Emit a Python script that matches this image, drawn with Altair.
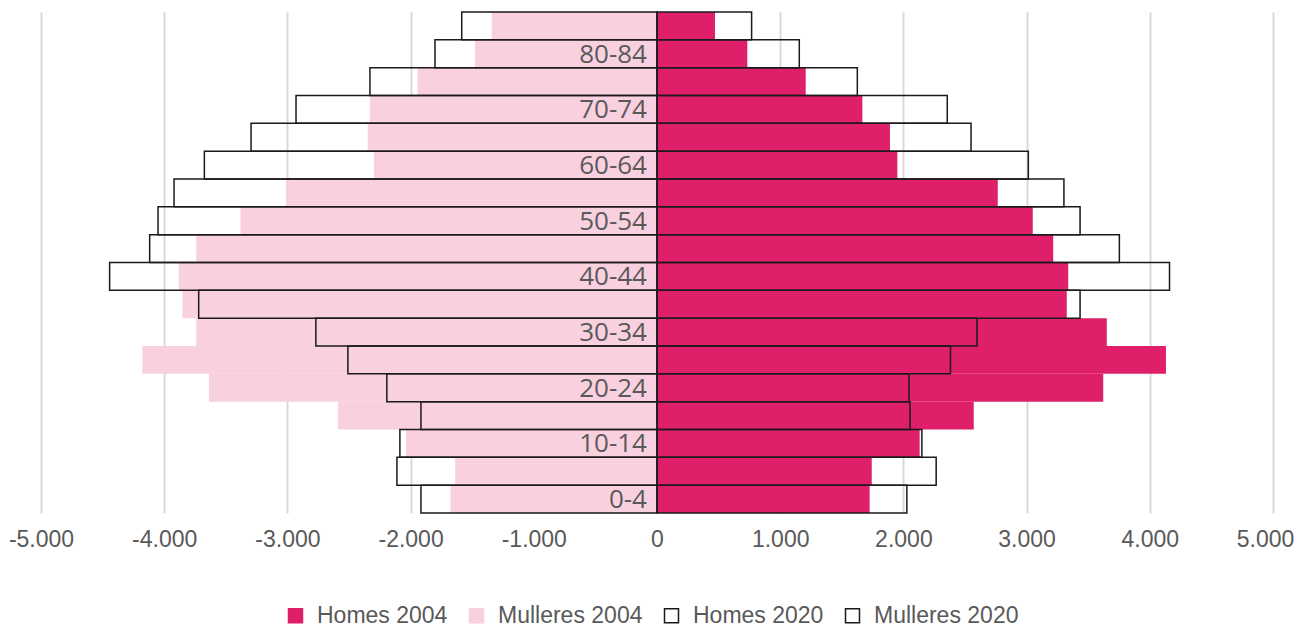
import altair as alt
import pandas as pd

# ---- data ----
ages = ["0-4", "5-9", "10-14", "15-19", "20-24", "25-29", "30-34", "35-39", "40-44",
        "45-49", "50-54", "55-59", "60-64", "65-69", "70-74", "75-79", "80-84", "85+"]
homes_2004 = [1726, 1743, 2132, 2571, 3622, 4131, 3651, 3326, 3338,
              3216, 3050, 2766, 1951, 1891, 1667, 1207, 733, 471]
mulleres_2004 = [1677, 1638, 2037, 2589, 3637, 4177, 3740, 3852, 3882,
                 3740, 3380, 3011, 2297, 2348, 2330, 1943, 1477, 1342]
homes_2020 = [2028, 2266, 2150, 2054, 2045, 2382, 2597, 3434, 4160,
              3753, 3434, 3303, 3014, 2549, 2356, 1626, 1155, 768]
mulleres_2020 = [1916, 2111, 2087, 1916, 2193, 2509, 2769, 3720, 4443,
                 4118, 4050, 3920, 3674, 3295, 2930, 2330, 1802, 1585]
series = ["Homes 2004", "Mulleres 2004", "Homes 2020", "Mulleres 2020"]
labelled_ages = ["0-4", "10-14", "20-24", "30-34", "40-44", "50-54", "60-64", "70-74", "80-84"]
tick_values = [-5000, -4000, -3000, -2000, -1000, 0, 1000, 2000, 3000, 4000, 5000]

fill_colors = ["#DF1F69", "#F9D0E0", "#FFFFFF", "#FFFFFF"]
stroke_colors = ["#DF1F69", "#F9D0E0", "#1A1A1A", "#1A1A1A"]

rows = []
for i, a in enumerate(ages):
    rows.append({"age": a, "series": "Homes 2004", "year": 2004, "value": homes_2004[i]})
    rows.append({"age": a, "series": "Mulleres 2004", "year": 2004, "value": -mulleres_2004[i]})
    rows.append({"age": a, "series": "Homes 2020", "year": 2020, "value": homes_2020[i]})
    rows.append({"age": a, "series": "Mulleres 2020", "year": 2020, "value": -mulleres_2020[i]})
df = pd.DataFrame(rows)
labels_df = pd.DataFrame({"age": labelled_ages})

sans = "Liberation Sans, Arial, sans-serif"

x_scale = alt.Scale(domain=[-5000, 5000], nice=False, zero=True)
y_scale = alt.Scale(domain=ages[::-1], paddingInner=0, paddingOuter=0)

x_axis = alt.Axis(
    values=tick_values,
    labelExpr="(datum.value < 0 ? '-' : '') + replace(format(abs(datum.value), ','), ',', '.')",
    domain=False, ticks=False, grid=True, gridColor="#D9D9D9", gridWidth=2,
    labelFont=sans, labelFontSize=23, labelColor="#595959", labelPadding=15,
    labelFlush=False, labelOverlap=False, labelBound=False,
    labelOffset={"condition": {"test": "datum.value == 5000", "value": -8}, "value": 0},
    title=None,
)

legend = alt.Legend(
    title=None, orient="none", direction="horizontal", columns=4,
    legendX=243, legendY=592,
    symbolType="square", symbolSize=196, symbolStrokeWidth=1.5,
    labelFont=sans, labelFontSize=23, labelColor="#595959", labelLimit=400,
    labelOffset=10, columnPadding=17,
)

color_enc = alt.Color("series:N", scale=alt.Scale(domain=series, range=fill_colors), legend=legend)
stroke_enc = alt.Stroke("series:N", scale=alt.Scale(domain=series, range=stroke_colors), legend=legend)

base = alt.Chart(df)

bars_2004 = base.transform_filter("datum.year == 2004").mark_bar(strokeWidth=0).encode(
    x=alt.X("value:Q", scale=x_scale, axis=x_axis),
    y=alt.Y("age:N", scale=y_scale, axis=None),
    color=color_enc,
)

bars_2020 = base.transform_filter("datum.year == 2020").mark_bar(fillOpacity=0, strokeWidth=1.5).encode(
    x=alt.X("value:Q", scale=x_scale, axis=x_axis),
    y=alt.Y("age:N", scale=y_scale, axis=None),
    color=color_enc,
    stroke=stroke_enc,
)

labels = alt.Chart(labels_df).mark_text(
    align="right", baseline="middle", dx=-10, dy=1,
    font="Open Sans", fontSize=26, color="#595959",
).encode(
    x=alt.datum(0),
    y=alt.Y("age:N", scale=y_scale, axis=None),
    text="age:N",
)

chart = alt.layer(bars_2004, bars_2020, labels).properties(
    width=1232, height=501,
    autosize=alt.AutoSizeParams(type="none"),
    padding={"left": 33, "top": 4, "right": 23, "bottom": 115},
).configure_view(stroke=None)

chart.save("out.html", embed_options={"renderer": "svg", "actions": False})
